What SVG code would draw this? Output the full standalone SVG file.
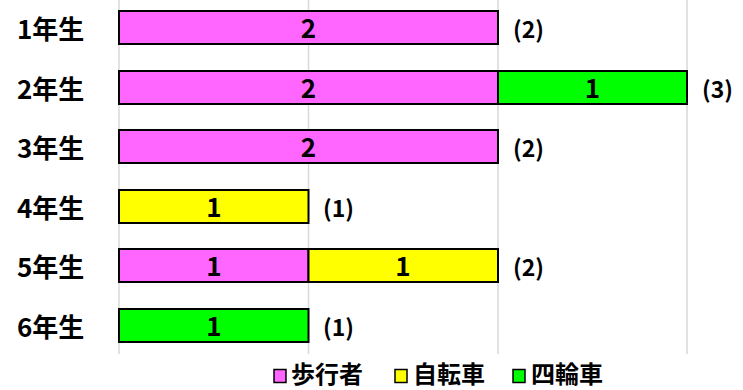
<svg xmlns="http://www.w3.org/2000/svg" width="743" height="390" viewBox="0 0 743 390">
<style>
.grid{stroke:#d9d9d9;stroke-width:1.5}
.bar{stroke:#000;stroke-width:2}
.p{fill:#ff66ff}.y{fill:#ffff00}.g{fill:#00ff00}
.cat{font-family:"Noto Sans CJK JP",sans-serif;font-weight:bold;font-size:26px;fill:#000}
.val{font-family:"Noto Sans CJK JP",sans-serif;font-weight:bold;font-size:26px;fill:#000;text-anchor:middle}
.tot{font-family:"Noto Sans CJK JP",sans-serif;font-weight:bold;font-size:23px;fill:#000}
.leg{font-family:"Noto Sans CJK JP",sans-serif;font-weight:bold;font-size:24px;fill:#000}
.sw{stroke:#000;stroke-width:1.5}
</style>
<rect width="743" height="390" fill="#fff"/>
<g id="grid">
<line class="grid" x1="119" y1="0" x2="119" y2="354"/>
<line class="grid" x1="308.5" y1="0" x2="308.5" y2="354"/>
<line class="grid" x1="498" y1="0" x2="498" y2="354"/>
<line class="grid" x1="687" y1="0" x2="687" y2="354"/>
</g>
<g id="row1">
<text class="cat" x="17" y="39">1年生</text>
<rect class="bar p" x="119" y="11" width="379" height="33"/>
<text class="val" x="308.5" y="38">2</text>
<text class="tot" x="513" y="38">(2)</text>
</g>
<g id="row2">
<text class="cat" x="17" y="99">2年生</text>
<rect class="bar p" x="119" y="71" width="379" height="33"/>
<text class="val" x="308.5" y="98">2</text>
<rect class="bar g" x="498" y="71" width="189" height="33"/>
<text class="val" x="592.5" y="98">1</text>
<text class="tot" x="702" y="98">(3)</text>
</g>
<g id="row3">
<text class="cat" x="17" y="158">3年生</text>
<rect class="bar p" x="119" y="130" width="379" height="33"/>
<text class="val" x="308.5" y="157">2</text>
<text class="tot" x="513" y="157">(2)</text>
</g>
<g id="row4">
<text class="cat" x="17" y="218">4年生</text>
<rect class="bar y" x="119" y="190" width="189.5" height="33"/>
<text class="val" x="214" y="217">1</text>
<text class="tot" x="323" y="217">(1)</text>
</g>
<g id="row5">
<text class="cat" x="17" y="277">5年生</text>
<rect class="bar p" x="119" y="249" width="189.5" height="33"/>
<text class="val" x="214" y="276">1</text>
<rect class="bar y" x="308.5" y="249" width="189.5" height="33"/>
<text class="val" x="403" y="276">1</text>
<text class="tot" x="513" y="276">(2)</text>
</g>
<g id="row6">
<text class="cat" x="17" y="337">6年生</text>
<rect class="bar g" x="119" y="309" width="189.5" height="33"/>
<text class="val" x="214" y="336">1</text>
<text class="tot" x="323" y="336">(1)</text>
</g>
<g id="legend">
<rect class="p sw" x="274" y="369.5" width="12" height="13"/>
<text class="leg" x="291" y="383">歩行者</text>
<rect class="y sw" x="395" y="369.5" width="12" height="13"/>
<text class="leg" x="413" y="383">自転車</text>
<rect class="g sw" x="513" y="369.5" width="12" height="13"/>
<text class="leg" x="531" y="383">四輪車</text>
</g>
</svg>
